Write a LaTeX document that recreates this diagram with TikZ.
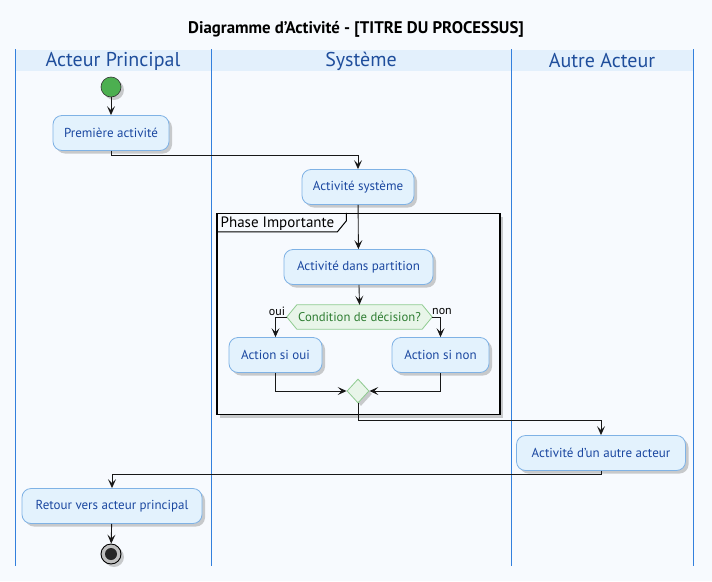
\documentclass[tikz,border=0pt]{standalone}
\usepackage{fontspec}
\setmainfont{PT Sans}
\usetikzlibrary{arrows.meta,shapes.geometric,shadows,calc}
\definecolor{bg}{HTML}{F7FAFE}
\definecolor{band}{HTML}{E3F0FC}
\definecolor{laneline}{HTML}{3380DD}
\definecolor{lanetext}{HTML}{1F4E9C}
\definecolor{boxfill}{HTML}{E3F2FD}
\definecolor{boxborder}{HTML}{7FB2E5}
\definecolor{boxtext}{HTML}{1A47A0}
\definecolor{condfill}{HTML}{E8F5E9}
\definecolor{condborder}{HTML}{8FCB90}
\definecolor{condtext}{HTML}{2E7D32}
\definecolor{startgreen}{HTML}{4CAF50}
\definecolor{linecol}{HTML}{181818}
\tikzset{
  shad/.style={drop shadow={shadow xshift=3pt, shadow yshift=-3pt, fill=black!40, opacity=0.5}},
  act/.style={rounded corners=9pt, minimum height=35pt, inner xsep=4pt, inner ysep=0pt,
    draw=boxborder, fill=boxfill, text=boxtext, line width=0.8pt, shad,
    font=\fontsize{13}{15}\selectfont},
  arr/.style={draw=linecol, line width=0.9pt, -{Stealth[length=9pt,width=8pt,inset=4pt]}},
  lane/.style={draw=laneline, line width=1.1pt},
  lanetitle/.style={text=lanetext, font=\fontsize{20}{23}\selectfont},
  lbl/.style={text=black, font=\fontsize{12}{14}\selectfont, inner sep=0pt},
}
\begin{document}
\begin{tikzpicture}[x=1pt,y=-1pt]
\useasboundingbox (0,0) rectangle (712,581);
\fill[bg] (0,0) rectangle (712,581);
% title
\node[font=\bfseries\fontsize{16.8}{19}\selectfont] (title) at (356,29) {Diagramme d'Activité - [TITRE DU PROCESSUS]};
% lanes
\fill[band] (15,50) rectangle (693,71);
\draw[lane] (15.5,49) -- (15.5,566);
\draw[lane] (211.5,49) -- (211.5,566);
\draw[lane] (511.5,49) -- (511.5,566);
\draw[lane] (693.3,49) -- (693.3,566);
\node[lanetitle] (l1) at (113,61) {Acteur Principal};
\node[lanetitle] (l2) at (361,61) {Système};
\node[lanetitle] (l3) at (602,61) {Autre Acteur};
% partition frame
\node[draw=black, line width=1.3pt, fill=bg, minimum width=283pt, minimum height=201pt, inner sep=0pt, shad] (phase) at (358.5,314) {};
\draw[black, line width=1pt] ($(phase.north west)+(0,19)$) -- ++(121,0) -- ++(9,-11) -- ++(0,-8);
\node[anchor=west, font=\fontsize{15}{17}\selectfont, inner sep=0pt] (phtitle) at (220.5,223.5) {Phase Importante};
% nodes
\node[circle, fill=startgreen, draw=black!80, line width=0.6pt, minimum size=20pt, inner sep=0pt, shad] (start) at (111,87) {};
\node[act, minimum width=116pt] (p1) at (111,133) {Première activité};
\node[act, minimum width=112pt] (sys) at (358,187) {Activité système};
\node[act, minimum width=149pt] (part) at (358.5,267) {Activité dans partition};
\node[minimum width=145pt, minimum height=24pt, inner sep=0pt] (cond) at (359.5,317) {};
\draw[fill=condfill, draw=condborder, line width=0.8pt]
  (cond.west) -- ($(cond.north west)+(10,0)$) -- ($(cond.north east)+(-10,0)$) -- (cond.east)
  -- ($(cond.south east)+(-10,0)$) -- ($(cond.south west)+(10,0)$) -- cycle;
\node[text=condtext, font=\fontsize{12.7}{14}\selectfont] (condtxt) at (cond) {Condition de décision?};
\node[act, minimum width=93pt] (oui) at (275.5,355) {Action si oui};
\node[act, minimum width=97pt] (non) at (440.5,355) {Action si non};
\node[diamond, fill=condfill, draw=condborder, line width=0.8pt, minimum width=22pt, minimum height=24pt, inner sep=0pt, shad] (merge) at (358,391) {};
\node[act, minimum width=169pt] (autre) at (601,453) {Activité d'un autre acteur};
\node[act, minimum width=180pt] (retour) at (112,506) {Retour vers acteur principal};
\node[circle, fill=black!25, draw=black, line width=0.9pt, minimum size=20pt, inner sep=0pt, shad] (endn) at (111,554) {};
\node[circle, fill=black!85, minimum size=12pt, inner sep=0pt] (enddot) at (endn) {};
\node[lbl] (ouilbl) at (277,311) {oui};
\node[lbl] (nonlbl) at (442,311) {non};
% connectors
\draw[arr] (start) -- (p1);
\draw[arr] (p1.south) -- ++(0,5) -| (sys.north);
\draw[arr] (sys) -- (part);
\draw[arr] (part) -- (cond.north);
\draw[arr] (cond.west) -| (oui.north);
\draw[arr] (cond.east) -| (non.north);
\draw[arr] (oui.south) |- (merge.west);
\draw[arr] (non.south) |- (merge.east);
\draw[arr] (merge.south) -- ++(0,17) -| (autre.north);
\draw[arr] (autre.south) -- ++(0,4) -| (retour.north);
\draw[arr] (retour) -- (endn);
\end{tikzpicture}
\end{document}
